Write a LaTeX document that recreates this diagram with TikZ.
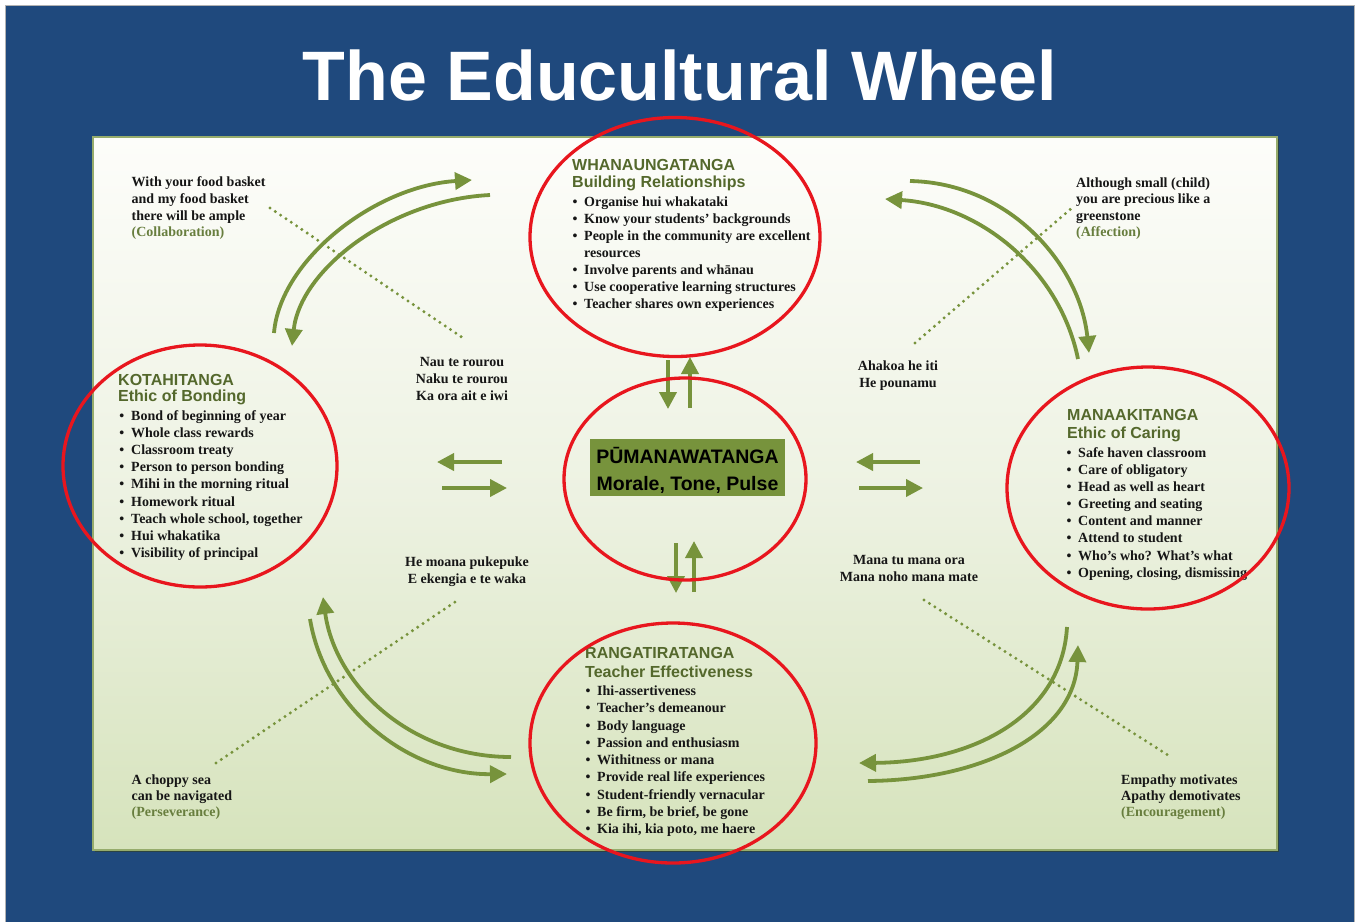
\documentclass[tikz,border=0pt]{standalone}
\usepackage{fontspec}
\setmainfont{Liberation Serif}
\newfontfamily\arialf{Liberation Sans}
\usetikzlibrary{arrows.meta,shapes.geometric}
\definecolor{bgblue}{RGB}{31,73,125}
\definecolor{olive}{RGB}{119,147,60}
\definecolor{headgreen}{RGB}{84,104,44}
\definecolor{parengreen}{RGB}{104,126,62}
\definecolor{ellred}{RGB}{232,22,30}
\definecolor{txt}{RGB}{22,22,22}
\definecolor{pantop}{RGB}{253,253,250}
\definecolor{panmid}{RGB}{237,242,226}
\definecolor{panbot}{RGB}{214,227,188}
\definecolor{panedge}{RGB}{150,172,108}
\tikzset{
  redell/.style={ellipse, draw=ellred, line width=3.3pt, inner sep=0pt},
  head/.style={anchor=base west, inner sep=0pt, font=\arialf\bfseries\fontsize{16}{19}\selectfont, text=headgreen},
  item/.style={anchor=base west, inner sep=0pt, font=\bfseries\fontsize{14}{17}\selectfont, text=txt},
  bul/.style={anchor=base, inner sep=0pt, font=\bfseries\fontsize{14}{17}\selectfont, text=txt},
  prov/.style={anchor=base, inner sep=0pt, font=\bfseries\fontsize{14}{17}\selectfont, text=txt},
  paren/.style={item, text=parengreen},
  flow/.style={draw=olive, line width=3.8pt, -{Triangle[length=17pt,width=17pt]}},
  dots/.style={draw=olive, line width=3.3pt, line cap=round, dash pattern=on 0pt off 6.4pt},
  boxtext/.style={anchor=base, inner sep=0pt, font=\arialf\bfseries\fontsize{19.5}{23}\selectfont, text=black},
}
\begin{document}
\begin{tikzpicture}[x=1pt,y=-1pt]
\useasboundingbox (0,0) rectangle (1359,922);
% frame
\fill[white] (0,0) rectangle (1359,922);
\fill[bgblue] (5,5) rectangle (1354,922);
\draw[gray!60, line width=1pt] (5,5) -- (5,922) (5,5) -- (1354,5) -- (1354,922);
\node[font=\arialf\bfseries\fontsize{70}{80}\selectfont, text=white, anchor=base, inner sep=0pt] (title) at (680,100) {The Educultural Wheel};
% panel
\fill[black!55!olive, opacity=0.6] (95,139) rectangle (1279,852);
\shade[top color=pantop, bottom color=panbot, middle color=panmid] (93,137) rectangle (1277,850);
\draw[panedge, line width=1.2pt] (93,137) rectangle (1277,850);

% dotted lines
\coordinate (dTLa) at (270,208); \coordinate (dTLb) at (466,340);
\coordinate (dTRa) at (915,343); \coordinate (dTRb) at (1073,207);
\coordinate (dBLa) at (216,763); \coordinate (dBLb) at (458,600);
\coordinate (dBRa) at (924,600); \coordinate (dBRb) at (1171,757);
\draw[dots] (dTLa) -- (dTLb);
\draw[dots] (dTRa) -- (dTRb);
\draw[dots] (dBLa) -- (dBLb);
\draw[dots] (dBRa) -- (dBRb);

% curved arrows
\coordinate (c1a) at (274,333); \coordinate (c1b) at (472,180);
\draw[flow] (c1a) .. controls (280,260) and (375,186) .. (c1b);
\coordinate (c2a) at (490,195); \coordinate (c2b) at (292,346);
\draw[flow] (c2a) .. controls (390,200) and (300,270) .. (c2b);
\coordinate (c3a) at (910,181); \coordinate (c3b) at (1089,353);
\draw[flow] (c3a) .. controls (1010,183) and (1080,265) .. (c3b);
\coordinate (c4a) at (1078,359); \coordinate (c4b) at (885,199);
\draw[flow] (c4a) .. controls (1060,270) and (980,205) .. (c4b);
\coordinate (c5a) at (310,619); \coordinate (c5b) at (507,774);
\draw[flow] (c5a) .. controls (325,710) and (410,775) .. (c5b);
\coordinate (c6a) at (511,757); \coordinate (c6b) at (323,597);
\draw[flow] (c6a) .. controls (410,757) and (335,685) .. (c6b);
\coordinate (c7a) at (1067,627); \coordinate (c7b) at (859,763);
\draw[flow] (c7a) .. controls (1062,715) and (975,762) .. (c7b);
\coordinate (c8a) at (868,781); \coordinate (c8b) at (1078,645);
\draw[flow] (c8a) .. controls (980,780) and (1075,735) .. (c8b);

% straight arrows
\coordinate (s1a) at (668,360); \coordinate (s1b) at (668,409);
\coordinate (s2a) at (690,408); \coordinate (s2b) at (690,357);
\coordinate (s3a) at (676,543); \coordinate (s3b) at (676,593);
\coordinate (s4a) at (694,592); \coordinate (s4b) at (694,541);
\coordinate (s5a) at (502,462); \coordinate (s5b) at (437,462);
\coordinate (s6a) at (442,488); \coordinate (s6b) at (507,488);
\coordinate (s7a) at (920,462); \coordinate (s7b) at (856,462);
\coordinate (s8a) at (859,488); \coordinate (s8b) at (923,488);
\foreach \k in {1,...,8} \draw[flow] (s\k a) -- (s\k b);

% centre box
\node[fill=olive, minimum width=195pt, minimum height=57pt, inner sep=0pt] (pbox) at (687.5,467.5) {};
\node[boxtext] (pb1) at (687.5,463.5) {PŪMANAWATANGA};
\node[boxtext] (pb2) at (687.5,490.5) {Morale, Tone, Pulse};

% top block
\node[head] (th1) at (572,170.7) {WHANAUNGATANGA};
\node[head] (th2) at (572,187.2) {Building Relationships};
\foreach \t [count=\i from 0] in {Organise hui whakataki, Know your students’ backgrounds, People in the community are excellent, resources, Involve parents and whānau, Use cooperative learning structures, Teacher shares own experiences}
  \node[item] (tt\i) at (584,{206.3+17.05*\i}) {\t};
\foreach \i in {0,1,2,4,5,6}
  \node[bul] (tb\i) at (575,{206.3+17.05*\i}) {\textbullet};

% left block
\node[head] (lh1) at (118,385) {KOTAHITANGA};
\node[head] (lh2) at (118,401.5) {Ethic of Bonding};
\foreach \t [count=\i from 0] in {Bond of beginning of year, Whole class rewards, Classroom treaty, Person to person bonding, Mihi in the morning ritual, Homework ritual, {Teach whole school, together}, Hui whakatika, Visibility of principal}
{
  \node[item] (lt\i) at (131,{420.5+17.1*\i}) {\t};
  \node[bul] (lb\i) at (121.7,{420.5+17.1*\i}) {\textbullet};
}

% right block
\node[head] (rh1) at (1067,420) {MANAAKITANGA};
\node[head] (rh2) at (1067,438.2) {Ethic of Caring};
\foreach \t [count=\i from 0] in {Safe haven classroom, Care of obligatory, Head as well as heart, Greeting and seating, Content and manner, Attend to student, Who’s who? What’s what, {Opening, closing, dismissing}}
{
  \node[item] (rt\i) at (1078,{457.2+17.14*\i}) {\t};
  \node[bul] (rb\i) at (1069,{457.2+17.14*\i}) {\textbullet};
}

% bottom block
\node[head] (bh1) at (585,658.7) {RANGATIRATANGA};
\node[head] (bh2) at (585,677.5) {Teacher Effectiveness};
\foreach \t [count=\i from 0] in {Ihi-assertiveness, Teacher’s demeanour, Body language, Passion and enthusiasm, Withitness or mana, Provide real life experiences, Student-friendly vernacular, {Be firm, be brief, be gone}, {Kia ihi, kia poto, me haere}}
{
  \node[item] (bt\i) at (597,{695.5+17.25*\i}) {\t};
  \node[bul] (bb\i) at (588,{695.5+17.25*\i}) {\textbullet};
}

% corner sayings
\foreach \t [count=\i from 0] in {With your food basket, and my food basket, there will be ample}
  \node[item] (tl\i) at (131.5,{186.8+16.7*\i}) {\t};
\node[paren] (tlp) at (131.5,236.9) {(Collaboration)};
\foreach \t [count=\i from 0] in {Although small (child), you are precious like a, greenstone}
  \node[item] (tr\i) at (1076,{187.2+16.5*\i}) {\t};
\node[paren] (trp) at (1076,236.4) {(Affection)};
\foreach \t [count=\i from 0] in {A choppy sea, can be navigated}
  \node[item] (bl\i) at (131.5,{784.5+16.2*\i}) {\t};
\node[paren] (blp) at (131.5,816.9) {(Perseverance)};
\foreach \t [count=\i from 0] in {Empathy motivates, Apathy demotivates}
  \node[item] (br\i) at (1121,{784+16.3*\i}) {\t};
\node[paren] (brp) at (1121,816.9) {(Encouragement)};

% proverbs
\node[prov] (p1a) at (462,366.2) {Nau te rourou};
\node[prov] (p1b) at (462,383.3) {Naku te rourou};
\node[prov] (p1c) at (462,400.2) {Ka ora ait e iwi};
\node[prov] (p2a) at (898,370.5) {Ahakoa he iti};
\node[prov] (p2b) at (898,387.8) {He pounamu};
\node[prov] (p3a) at (467,566) {He moana pukepuke};
\node[prov] (p3b) at (467,583.2) {E ekengia e te waka};
\node[prov] (p4a) at (909,564.6) {Mana tu mana ora};
\node[prov] (p4b) at (909,581.8) {Mana noho mana mate};

% red ellipses
\node[redell, minimum width=290pt, minimum height=239pt] (etop) at (675,237) {};
\node[redell, minimum width=274pt, minimum height=242pt] (eleft) at (200,466) {};
\node[redell, minimum width=282pt, minimum height=242pt] (eright) at (1148,488) {};
\node[redell, minimum width=286pt, minimum height=240pt] (ebot) at (673,743) {};
\node[redell, minimum width=242pt, minimum height=202pt] (ecen) at (685,479) {};
\end{tikzpicture}
\end{document}
